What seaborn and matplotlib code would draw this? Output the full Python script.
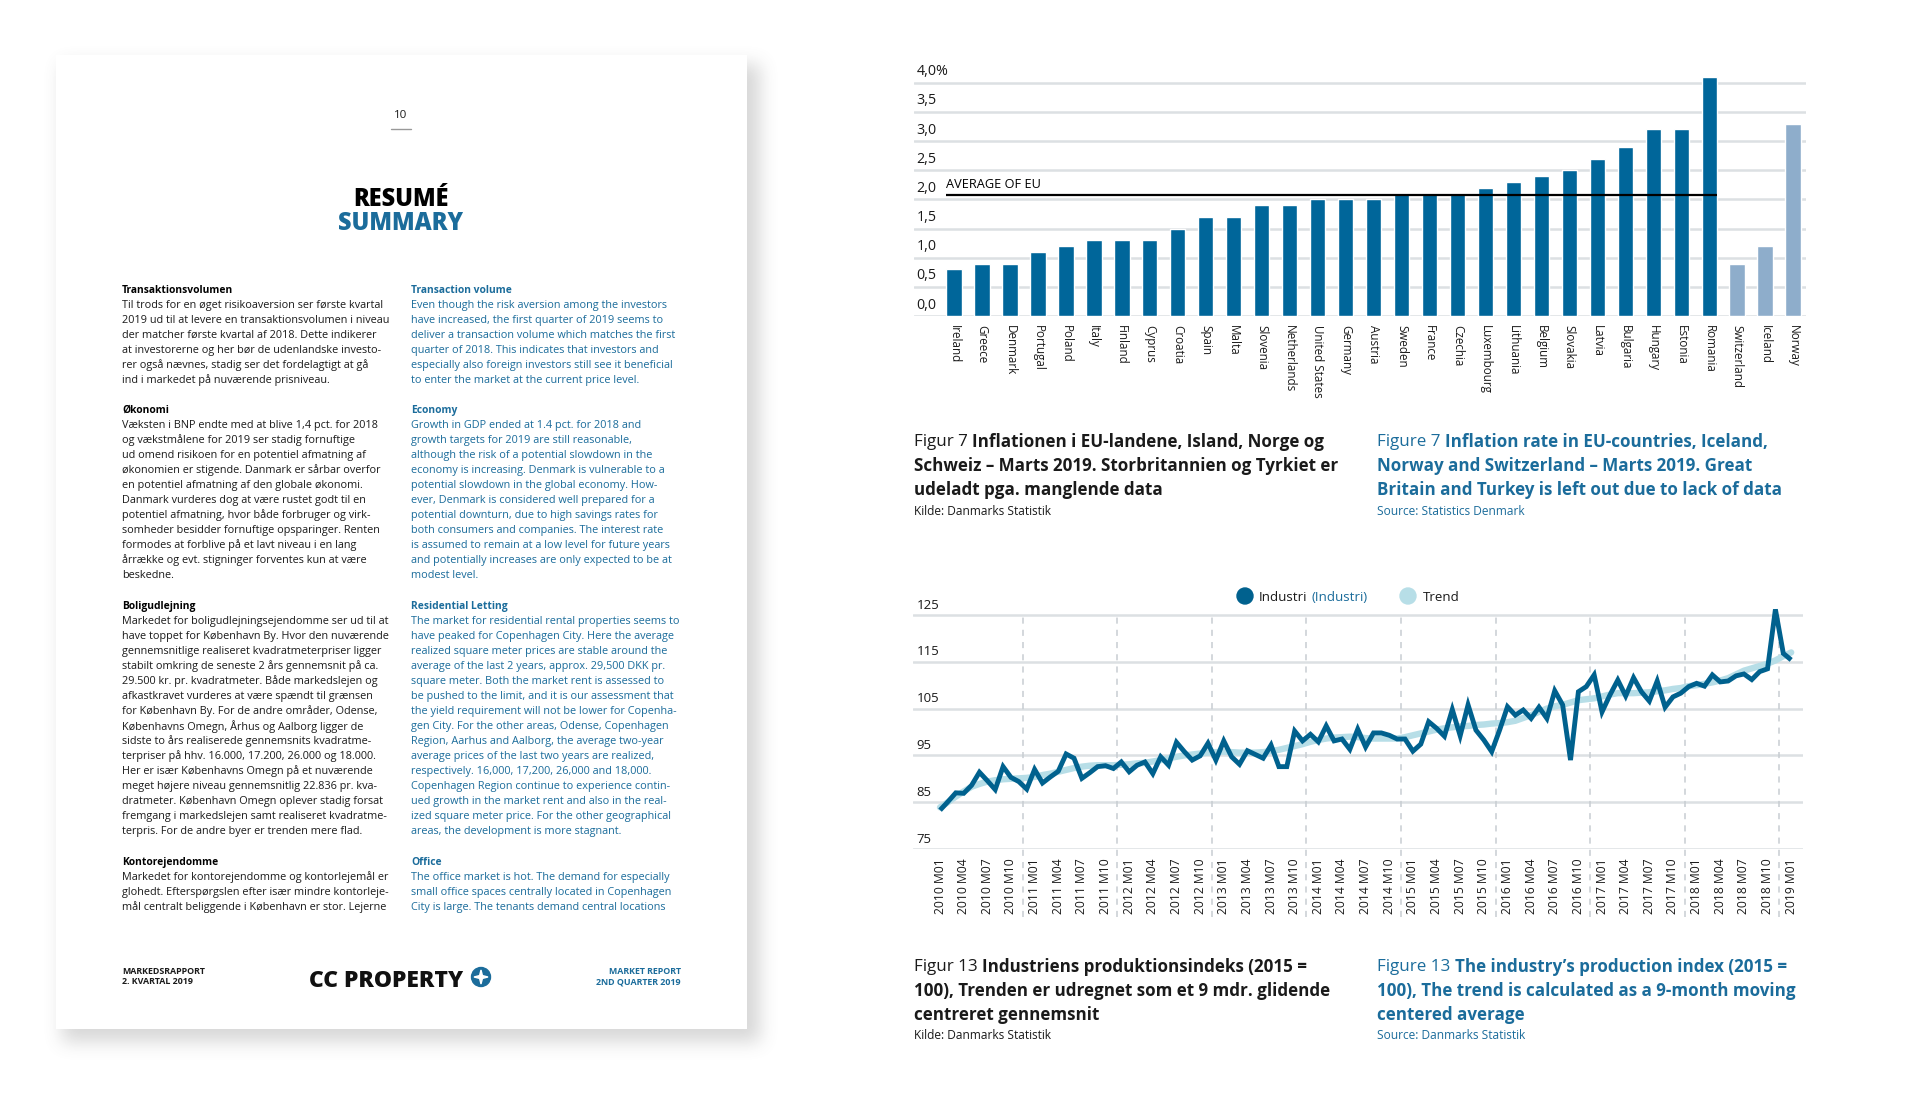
import matplotlib
matplotlib.use("Agg")
import matplotlib.pyplot as plt
import matplotlib.patches as mpatches
import numpy as np
import pandas as pd
import seaborn as sns

# Figur 7: inflation marts 2019
countries = ["Ireland", "Greece", "Denmark", "Portugal", "Poland", "Italy", "Finland", "Cyprus",
             "Croatia", "Spain", "Malta", "Slovenia", "Netherlands", "United States", "Germany",
             "Austria", "Sweden", "France", "Czechia", "Luxembourg", "Lithuania", "Belgium",
             "Slovakia", "Latvia", "Bulgaria", "Hungary", "Estonia", "Romania",
             "Switzerland", "Iceland", "Norway"]
inflation = [0.8, 0.9, 0.9, 1.1, 1.2, 1.3, 1.3, 1.3, 1.5, 1.7, 1.7, 1.9, 1.9, 2.0, 2.0,
             2.0, 2.1, 2.1, 2.1, 2.2, 2.3, 2.4, 2.5, 2.7, 2.9, 3.2, 3.2, 4.1,
             0.9, 1.2, 3.3]
group = ["main"] * 28 + ["other"] * 3
eu_average = 2.08
bar_ticks = [0.0, 0.5, 1.0, 1.5, 2.0, 2.5, 3.0, 3.5, 4.0]
bar_tick_labels = ["0,0", "0,5", "1,0", "1,5", "2,0", "2,5", "3,0", "3,5", "4,0%"]

# Figur 13: industriens produktionsindeks 2010M01 - 2019M01
months = [f"{p.year} M{p.month:02d}" for p in pd.period_range("2010-01", "2019-01", freq="M")]
industri = [83.3, 85.1, 87.0, 86.9, 88.6, 91.4, 89.6, 87.7, 92.6, 90.3, 89.4, 87.8,
            92.0, 89.1, 90.4, 91.6, 95.3, 94.4, 90.1, 91.3, 92.6, 92.8, 92.2, 93.6,
            91.5, 92.9, 93.6, 91.1, 94.7, 92.9, 97.8, 95.8, 94.0, 94.9, 97.6, 94.0,
            98.1, 94.7, 93.1, 96.0, 95.2, 94.4, 97.2, 92.6, 92.6, 100.2, 98.1, 99.5,
            97.9, 101.3, 98.1, 98.5, 96.3, 100.6, 96.8, 99.8, 99.8, 99.3, 98.5, 98.5,
            95.9, 97.4, 102.2, 100.8, 99.1, 104.8, 99.2, 105.8, 100.4, 98.3, 95.8, 100.4,
            105.4, 103.6, 104.7, 102.9, 105.3, 102.9, 108.8, 105.8, 94.0, 108.6, 109.7, 112.2,
            104.3, 107.9, 111.1, 107.7, 111.6, 108.6, 106.6, 110.9, 105.3, 107.5, 108.3, 109.7,
            110.4, 109.8, 112.2, 110.7, 110.9, 112.0, 112.4, 111.2, 112.9, 113.5, 126.2, 116.8,
            115.4]
trend = [83.9, 85.0, 86.2, 87.3, 88.3, 88.9, 89.4, 89.7, 89.9, 90.0,
         90.1, 90.2, 90.4, 90.8, 91.1, 91.5, 91.9, 92.3, 92.6, 92.8,
         92.9, 92.9, 92.9, 93.0, 93.1, 93.3, 93.4, 93.7, 94.0, 94.4,
         94.7, 95.0, 95.2, 95.4, 95.6, 95.7, 95.8, 95.7, 95.6, 95.6,
         95.6, 95.7, 95.9, 96.2, 96.6, 97.0, 97.4, 97.9, 98.3, 98.6,
         98.8, 98.9, 99.0, 98.9, 98.7, 98.6, 98.6, 98.6, 98.6, 98.9,
         99.3, 99.7, 100.1, 100.5, 100.8, 101.0, 101.2, 101.3, 101.5, 101.6,
         101.8, 101.9, 102.1, 102.4, 103.0, 103.6, 104.3, 105.0, 105.5, 105.8,
         106.3, 106.8, 107.0, 107.2, 107.6, 108.0, 108.3, 108.3, 108.3, 108.4,
         108.5, 108.7, 108.9, 109.2, 109.4, 109.8, 110.0, 110.3, 110.6, 111.0,
         111.5, 112.3, 113.1, 113.6, 114.1, 114.6, 115.3, 116.2, 117.0]
line_tick_values = [75, 85, 95, 105, 115, 125]

# tekster til siden
left_sections = [
    ("Transaktionsvolumen", [
        "Til trods for en øget risikoaversion ser første kvartal",
        "2019 ud til at levere en transaktionsvolumen i niveau",
        "der matcher første kvartal af 2018. Dette indikerer",
        "at investorerne og her bør de udenlandske investo-",
        "rer også nævnes, stadig ser det fordelagtigt at gå",
        "ind i markedet på nuværende prisniveau."]),
    ("Økonomi", [
        "Væksten i BNP endte med at blive 1,4 pct. for 2018",
        "og vækstmålene for 2019 ser stadig fornuftige",
        "ud omend risikoen for en potentiel afmatning af",
        "økonomien er stigende. Danmark er sårbar overfor",
        "en potentiel afmatning af den globale økonomi.",
        "Danmark vurderes dog at være rustet godt til en",
        "potentiel afmatning, hvor både forbruger og virk-",
        "somheder besidder fornuftige opsparinger. Renten",
        "formodes at forblive på et lavt niveau i en lang",
        "årrække og evt. stigninger forventes kun at være",
        "beskedne."]),
    ("Boligudlejning", [
        "Markedet for boligudlejningsejendomme ser ud til at",
        "have toppet for København By. Hvor den nuværende",
        "gennemsnitlige realiseret kvadratmeterpriser ligger",
        "stabilt omkring de seneste 2 års gennemsnit på ca.",
        "29.500 kr. pr. kvadratmeter. Både markedslejen og",
        "afkastkravet vurderes at være spændt til grænsen",
        "for København By. For de andre områder, Odense,",
        "Københavns Omegn, Århus og Aalborg ligger de",
        "sidste to års realiserede gennemsnits kvadratme-",
        "terpriser på hhv. 16.000, 17.200, 26.000 og 18.000.",
        "Her er især Københavns Omegn på et nuværende",
        "meget højere niveau gennemsnitlig 22.836 pr. kva-",
        "dratmeter. København Omegn oplever stadig forsat",
        "fremgang i markedslejen samt realiseret kvadratme-",
        "terpris. For de andre byer er trenden mere flad."]),
    ("Kontorejendomme", [
        "Markedet for kontorejendomme og kontorlejemål er",
        "glohedt. Efterspørgslen efter især mindre kontorleje-",
        "mål centralt beliggende i København er stor. Lejerne"]),
]
right_sections = [
    ("Transaction volume", [
        "Even though the risk aversion among the investors",
        "have increased, the first quarter of 2019 seems to",
        "deliver a transaction volume which matches the first",
        "quarter of 2018. This indicates that investors and",
        "especially also foreign investors still see it beneficial",
        "to enter the market at the current price level."]),
    ("Economy", [
        "Growth in GDP ended at 1.4 pct. for 2018 and",
        "growth targets for 2019 are still reasonable,",
        "although the risk of a potential slowdown in the",
        "economy is increasing. Denmark is vulnerable to a",
        "potential slowdown in the global economy. How-",
        "ever, Denmark is considered well prepared for a",
        "potential downturn, due to high savings rates for",
        "both consumers and companies. The interest rate",
        "is assumed to remain at a low level for future years",
        "and potentially increases are only expected to be at",
        "modest level."]),
    ("Residential Letting", [
        "The market for residential rental properties seems to",
        "have peaked for Copenhagen City. Here the average",
        "realized square meter prices are stable around the",
        "average of the last 2 years, approx. 29,500 DKK pr.",
        "square meter. Both the market rent is assessed to",
        "be pushed to the limit, and it is our assessment that",
        "the yield requirement will not be lower for Copenha-",
        "gen City. For the other areas, Odense, Copenhagen",
        "Region, Aarhus and Aalborg, the average two-year",
        "average prices of the last two years are realized,",
        "respectively. 16,000, 17,200, 26,000 and 18,000.",
        "Copenhagen Region continue to experience contin-",
        "ued growth in the market rent and also in the real-",
        "ized square meter price. For the other geographical",
        "areas, the development is more stagnant."]),
    ("Office", [
        "The office market is hot. The demand for especially",
        "small office spaces centrally located in Copenhagen",
        "City is large. The tenants demand central locations"]),
]
section_y = [289, 409, 605, 861]

DARK = "#00669A"
LIGHT_BAR = "#8EADCB"
LINE = "#00618E"
TREND = "#B7DEE7"
GRID = "#DCE0E3"
BLUE_TXT = "#1B6C9B"
INK = "#1a1a1a"

sns.set_theme(style="white")
plt.rcParams["font.family"] = ["Open Sans", "DejaVu Sans"]

W, H = 1920, 1100
fig = plt.figure(figsize=(19.2, 11), dpi=100)
fig.patch.set_facecolor("white")
bg = fig.add_axes([0, 0, 1, 1])
bg.set_xlim(0, W)
bg.set_ylim(H, 0)
bg.axis("off")
renderer = fig.canvas.get_renderer()


def fit(text, width, weight="normal"):
    # skriftstørrelse så teksten får samme bredde som i forlægget
    t = bg.text(0, 0, text, fontsize=10, fontweight=weight)
    w = t.get_window_extent(renderer).width
    t.remove()
    return 10 * width / w


def px_axes(x0, y0, x1, y1):
    return fig.add_axes([x0 / W, 1 - y1 / H, (x1 - x0) / W, (y1 - y0) / H])


def runs(x, y, parts, size, color):
    for s, weight in parts:
        t = bg.text(x, y, s, fontsize=size, fontweight=weight, color=color,
                    va="center_baseline", ha="left", zorder=5)
        x += t.get_window_extent(renderer).width + size * 100 / 72 * 0.27


body_fs = fit("2019 ud til at levere en transaktionsvolumen i niveau", 269)
head_fs = fit("Transaktionsvolumen", 111, "bold")
cap_fs = fit("Schweiz – Marts 2019. Storbritannien og Tyrkiet er", 425, "bold")
src_fs = fit("Kilde: Danmarks Statistik", 137)
bar_lab_fs = fit("Netherlands", 67)
ytick_fs = fit("4,0%", 32)
avg_fs = fit("AVERAGE OF EU", 95)
line_lab_fs = fit("2010 M01", 56)
line_ytick_fs = fit("125", 22.5)
leg_fs = fit("Industri", 48.5)
foot_fs = fit("MARKEDSRAPPORT", 84, "bold")
logo_fs = fit("CC PROPERTY", 155, "heavy")
title_fs = fit("RESUMÉ", 96, "heavy")

# --- siden med skygge
shadow = np.zeros((H, 820))
shadow[64:1042, 62:760] = 1.0
k = np.ones(17) / 17
for _ in range(3):
    shadow = np.apply_along_axis(lambda m: np.convolve(m, k, mode="same"), 1, shadow)
    shadow = np.apply_along_axis(lambda m: np.convolve(m, k, mode="same"), 0, shadow)
rgba = np.zeros((H, 820, 4))
rgba[..., :3] = 0.45
rgba[..., 3] = shadow * 0.28
bg.imshow(rgba, extent=(0, 820, H, 0), zorder=0, aspect="auto")
bg.add_patch(mpatches.Rectangle((56, 55), 691, 974, facecolor="white", edgecolor="none", zorder=1))

bg.text(401, 114, "10", fontsize=body_fs * 1.05, color=INK, ha="center", va="center_baseline", zorder=5)
bg.plot([391, 411], [129, 129], color="#999999", lw=1, zorder=5)
bg.text(401, 197, "RESUMÉ", fontsize=title_fs, fontweight="heavy", color="black",
        ha="center", va="center_baseline", zorder=5)
bg.text(401, 221, "SUMMARY", fontsize=title_fs, fontweight="heavy", color=BLUE_TXT,
        ha="center", va="center_baseline", zorder=5)

for (head, lines), y0 in zip(left_sections, section_y):
    bg.text(122, y0, head, fontsize=head_fs, fontweight="bold", color="black",
            va="center_baseline", zorder=5)
    for i, s in enumerate(lines):
        bg.text(122, y0 + 15 * (i + 1), s, fontsize=body_fs, color=INK,
                va="center_baseline", zorder=5)
for (head, lines), y0 in zip(right_sections, section_y):
    bg.text(411, y0, head, fontsize=head_fs, fontweight="bold", color=BLUE_TXT,
            va="center_baseline", zorder=5)
    for i, s in enumerate(lines):
        bg.text(411, y0 + 15 * (i + 1), s, fontsize=body_fs, color=BLUE_TXT,
                va="center_baseline", zorder=5)

# sidefod
for txt, yy in [("MARKEDSRAPPORT", 971), ("2. KVARTAL 2019", 981)]:
    bg.text(122, yy, txt, fontsize=foot_fs, fontweight="bold", color=INK,
            va="center_baseline", zorder=5)
for txt, yy in [("MARKET REPORT", 971), ("2ND QUARTER 2019", 981)]:
    bg.text(681, yy, txt, fontsize=foot_fs, fontweight="bold", color=BLUE_TXT,
            ha="right", va="center_baseline", zorder=5)
bg.text(309, 978, "CC PROPERTY", fontsize=logo_fs, fontweight="heavy", color="#111111",
        va="center_baseline", zorder=5)
bg.add_patch(mpatches.Circle((481, 977), 9.5, color=BLUE_TXT, zorder=5))
ang = np.deg2rad(np.arange(0, 360, 45) - 90)
rad = np.where(np.arange(8) % 2 == 0, 7.0, 2.0)
bg.add_patch(mpatches.Polygon(np.c_[481 + rad * np.cos(ang), 977 + rad * np.sin(ang)],
                              color="white", zorder=6))

# --- Figur 7: søjlediagram
bw = 0.55
axb = px_axes(914, 316 - 4.2 * 58.3, 1806, 316)
df_bar = pd.DataFrame({"country": countries, "inflation": inflation, "group": group})
sns.barplot(data=df_bar, x="country", y="inflation", hue="group",
            palette={"main": DARK, "other": LIGHT_BAR}, dodge=False, width=bw,
            saturation=1, legend=False, ax=axb, zorder=3)
for v, lab in zip(bar_ticks, bar_tick_labels):
    axb.axhline(v, color=GRID, lw=1.8, zorder=1)
    axb.annotate(lab, (0.003, v), xycoords=axb.get_yaxis_transform(), xytext=(0, 2.5),
                 textcoords="offset points", fontsize=ytick_fs, color=INK, va="bottom", ha="left")
rom = countries.index("Romania")
axb.hlines(eu_average, -bw / 2, rom + bw / 2, color="black", lw=1.6, zorder=4)
axb.annotate("AVERAGE OF EU", (-bw / 2, eu_average), xytext=(0, 2.5), textcoords="offset points",
             fontsize=avg_fs, color="black", va="bottom", ha="left")
axb.set_xlim(-1.43, 30.46)
axb.set_ylim(0, 4.2)
axb.set_yticks([])
axb.set_xlabel("")
axb.set_ylabel("")
axb.tick_params(axis="x", length=0, pad=6.5, labelsize=bar_lab_fs, labelcolor=INK)
for lab in axb.get_xticklabels():
    lab.set_rotation(-90)
    lab.set_va("top")
    lab.set_ha("center")
sns.despine(ax=axb, left=True, bottom=True)
axb.patch.set_alpha(0)

runs(914, 440, [("Figur 7", "normal"), ("Inflationen i EU-landene, Island, Norge og", "bold")], cap_fs, INK)
runs(914, 464, [("Schweiz – Marts 2019. Storbritannien og Tyrkiet er", "bold")], cap_fs, INK)
runs(914, 488, [("udeladt pga. manglende data", "bold")], cap_fs, INK)
bg.text(914, 510, "Kilde: Danmarks Statistik", fontsize=src_fs, color=INK, va="center_baseline")
runs(1377, 440, [("Figure 7", "normal"), ("Inflation rate in EU-countries, Iceland,", "bold")], cap_fs, BLUE_TXT)
runs(1377, 464, [("Norway and Switzerland – Marts 2019. Great", "bold")], cap_fs, BLUE_TXT)
runs(1377, 488, [("Britain and Turkey is left out due to lack of data", "bold")], cap_fs, BLUE_TXT)
bg.text(1377, 510, "Source: Statistics Denmark", fontsize=src_fs, color=BLUE_TXT, va="center_baseline")

# --- Figur 13: linjediagram
axl = px_axes(913, 849 - 53 * 4.68, 1803, 849)
xs = np.arange(len(months))
for v in line_tick_values:
    axl.axhline(v, color=GRID, lw=1.8, zorder=1)
    axl.annotate(str(v), (0.004, v), xycoords=axl.get_yaxis_transform(), xytext=(0, 2.5),
                 textcoords="offset points", fontsize=line_ytick_fs, color=INK, va="bottom", ha="left")
for xv in xs[10::12]:
    axl.axvline(xv + 0.5, ymin=-0.275, ymax=0.944, clip_on=False, color="#C8CDD2",
                lw=1.1, ls=(0, (4, 4)), zorder=1)
sns.lineplot(x=xs, y=trend, color=TREND, lw=4.6, ax=axl, zorder=2, solid_capstyle="round")
sns.lineplot(x=xs, y=industri, color=LINE, lw=3.5, ax=axl, zorder=3,
             solid_joinstyle="miter", solid_capstyle="butt")
axl.set_xlim(-3.43, 109.5)
axl.set_ylim(75, 128)
axl.set_yticks([])
axl.set_xticks(xs[::3])
axl.set_xticklabels([months[i] for i in xs[::3]], rotation=90, va="top", ha="center")
axl.tick_params(axis="x", length=0, pad=7, labelsize=line_lab_fs, labelcolor=INK)
sns.despine(ax=axl, left=True, bottom=True)
axl.patch.set_alpha(0)

# forklaring
bg.add_patch(mpatches.Circle((1245, 596), 8, color=LINE, zorder=5))
t1 = bg.text(1259, 596, "Industri", fontsize=leg_fs, color=INK, va="center_baseline", zorder=5)
x2 = 1259 + t1.get_window_extent(renderer).width + 4
bg.text(x2, 596, "(Industri)", fontsize=leg_fs, color=BLUE_TXT, va="center_baseline", zorder=5)
bg.add_patch(mpatches.Circle((1408, 596), 8, color=TREND, zorder=5))
bg.text(1423, 596, "Trend", fontsize=leg_fs, color=INK, va="center_baseline", zorder=5)

runs(914, 965, [("Figur 13", "normal"), ("Industriens produktionsindeks (2015 =", "bold")], cap_fs, INK)
runs(914, 989, [("100), Trenden er udregnet som et 9 mdr. glidende", "bold")], cap_fs, INK)
runs(914, 1013, [("centreret gennemsnit", "bold")], cap_fs, INK)
bg.text(914, 1034, "Kilde: Danmarks Statistik", fontsize=src_fs, color=INK, va="center_baseline")
runs(1377, 965, [("Figure 13", "normal"), ("The industry’s production index (2015 =", "bold")], cap_fs, BLUE_TXT)
runs(1377, 989, [("100), The trend is calculated as a 9-month moving", "bold")], cap_fs, BLUE_TXT)
runs(1377, 1013, [("centered average", "bold")], cap_fs, BLUE_TXT)
bg.text(1377, 1034, "Source: Danmarks Statistik", fontsize=src_fs, color=BLUE_TXT, va="center_baseline")

fig.savefig("out.png", dpi=100)
